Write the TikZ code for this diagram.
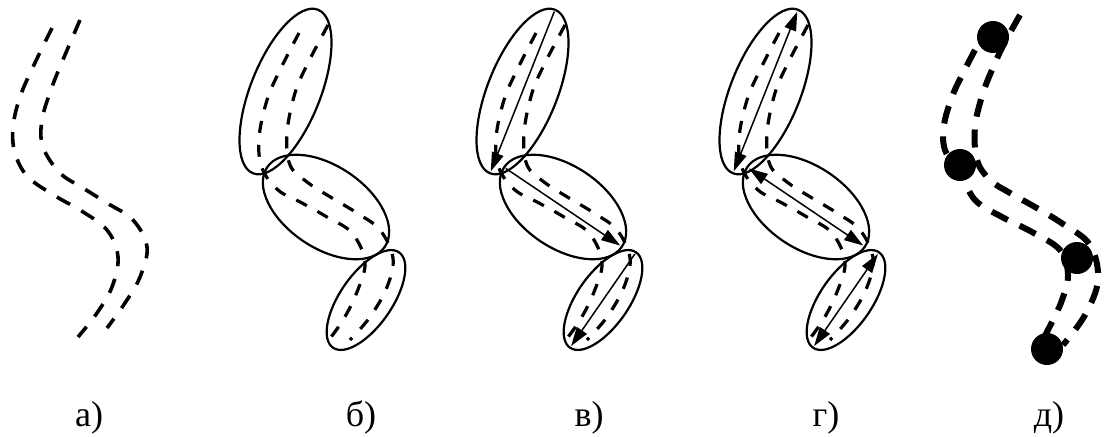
\documentclass[tikz,border=0pt]{standalone}
\usepackage{fontspec}
\setmainfont{Liberation Serif}
\usetikzlibrary{shapes.geometric,arrows.meta}

% the two dashed edges of the road, drawn inside the chain of ellipses
\newcommand\roadlines{%
  \draw[lane] plot[smooth,tension=0.6] coordinates {(299,33) (280,70) (267,100) (259,138) (262,168) (278,190) (302,203) (327,217) (352,233) (365,262) (357,292) (343,320) (325,345)};
  \draw[lane] plot[smooth,tension=0.6] coordinates {(328,25) (308,63) (295,93) (287,133) (290,165) (307,182) (332,198) (357,213) (380,230) (393,258) (387,287) (370,317) (350,340)};
}
% three ellipses covering the road piece by piece
\newcommand\segments[1]{%
  \node[seg, minimum width=176pt, minimum height=70pt, rotate=68.3] (#1a) at (285.5,91.5) {};
  \node[seg, minimum width=142pt, minimum height=82pt, rotate=-34] (#1b) at (326,207) {};
  \node[seg, minimum width=116pt, minimum height=52pt, rotate=55.3] (#1c) at (366,300) {};
}

\begin{document}
\begin{tikzpicture}[x=1pt,y=-1pt,
  road/.style={line width=3.6pt, dash pattern=on 15pt off 13pt},
  lane/.style={line width=3.2pt, dash pattern=on 12pt off 12pt},
  thick lane/.style={line width=6pt, dash pattern=on 18pt off 13pt},
  seg/.style={draw, ellipse, line width=2.2pt, inner sep=0pt, outer sep=0pt},
  chord/.style={line width=1.5pt, shorten >=2pt, shorten <=2pt},
  tip/.style={-{Triangle[length=19pt,width=12pt]}},
  twotips/.style={{Triangle[length=19pt,width=12pt]}-{Triangle[length=19pt,width=12pt]}},
  dot/.style={circle, fill=black, minimum size=32pt, inner sep=0pt},
  caption/.style={anchor=base, font=\fontsize{36}{40}\selectfont}]
\useasboundingbox (0,0) rectangle (1107,436);

% а) the road alone
\draw[road] plot[smooth,tension=0.6] coordinates {(52,28) (33,67) (20,97) (13,127) (15,153) (28,177) (57,197) (80,210) (107,230) (118,257) (112,287) (97,313) (78,337)};
\draw[road] plot[smooth,tension=0.6] coordinates {(80,20) (65,55) (52,87) (42,120) (43,147) (60,173) (83,188) (107,203) (133,220) (147,247) (140,277) (125,303) (107,328)};

% б) road split into segments
\roadlines
\segments{b}

% в) segments with directed chords
\begin{scope}[xshift=237pt]
  \roadlines
  \segments{c}
  \draw[chord,tip] (ca.east) -- (ca.west);
  \draw[chord,tip] (cb.west) -- (cb.east);
  \draw[chord,tip] (cc.east) -- (cc.west);
\end{scope}

% г) segments with two-way chords
\begin{scope}[xshift=480pt]
  \roadlines
  \segments{g}
  \draw[chord,twotips] (ga.west) -- (ga.east);
  \draw[chord,twotips] (gb.west) -- (gb.east);
  \draw[chord,twotips] (gc.east) -- (gc.west);
\end{scope}

% д) road with node points
\draw[thick lane] plot[smooth,tension=0.6] coordinates {(975,50) (962,75) (952,97) (944,125) (945,150) (960,172) (975,200) (1002,217) (1032,232) (1060,250) (1068,275) (1062,300) (1052,322) (1040,345)};
\draw[thick lane] plot[smooth,tension=0.6] coordinates {(1020,15) (1005,42) (995,63) (983,93) (975,127) (977,160) (990,180) (1010,193) (1035,207) (1063,224) (1090,245) (1098,280) (1085,315) (1063,345)};
\node[dot] (d1) at (993,37) {};
\node[dot] (d2) at (960,165) {};
\node[dot] (d3) at (1077,258) {};
\node[dot] (d4) at (1047,349) {};

% captions
\node[caption] (la) at (89,426) {а)};
\node[caption] (lb) at (361,426) {б)};
\node[caption] (lc) at (589,426) {в)};
\node[caption] (lg) at (826,426) {г)};
\node[caption] (ld) at (1049,426) {д)};
\end{tikzpicture}
\end{document}
